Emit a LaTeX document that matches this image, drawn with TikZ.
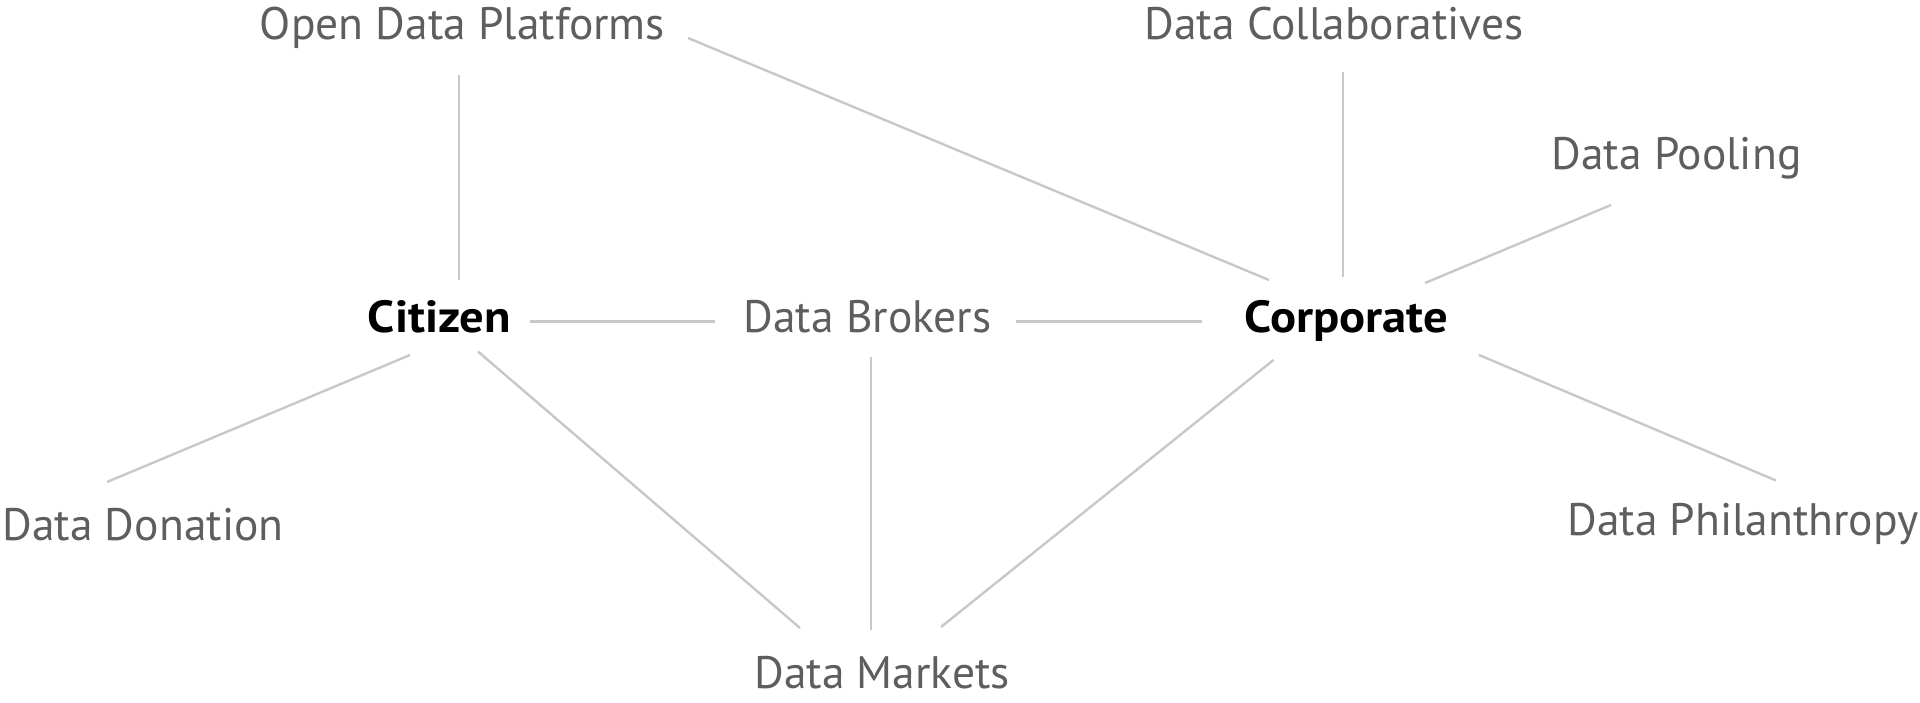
\documentclass[tikz,border=0pt]{standalone}
\usepackage{fontspec}
\setmainfont{PT Sans}
\newfontfamily\hubfont[FakeStretch=1.08]{PT Sans}
\definecolor{txtgray}{HTML}{5E5E5E}
\definecolor{linegray}{HTML}{C8C8C8}
\begin{document}
\begin{tikzpicture}[x=1pt,y=-1pt,
  lbl/.style={anchor=base,inner sep=0pt,text=txtgray,font=\fontsize{45.5}{52}\selectfont},
  hub/.style={anchor=base,inner sep=0pt,text=black,font=\fontsize{45}{52}\hubfont\bfseries},
  link/.style={draw=linegray,line width=2.4pt}]
\useasboundingbox (0,0) rectangle (1920,702);
% nodes
\node[lbl] (odp) at (462.5,39) {Open Data Platforms};
\node[lbl] (col) at (1334,39) {Data Collaboratives};
\node[lbl] (poo) at (1676.5,169) {Data Pooling};
\node[hub] (cit) at (439.5,332) {Citizen};
\node[lbl] (bro) at (867.5,332) {Data Brokers};
\node[hub] (cor) at (1346.5,332) {Corporate};
\node[lbl] (don) at (143,540) {Data Donation};
\node[lbl] (phi) at (1743,535) {Data Philanthropy};
\node[lbl] (mkt) at (882,688) {Data Markets};
% connectors
\draw[link] ([shift={(-3.5,36)}]odp.base) -- ([shift={(19.5,-52)}]cit.base);
\draw[link] ([shift={(225.5,-1)}]odp.base) -- ([shift={(-77.5,-52)}]cor.base);
\draw[link] ([shift={(9,33)}]col.base) -- ([shift={(-3.5,-55)}]cor.base);
\draw[link] ([shift={(-65.5,36)}]poo.base) -- ([shift={(78.5,-49)}]cor.base);
\draw[link] ([shift={(90.5,-10.5)}]cit.base) -- ([shift={(-152.5,-10.5)}]bro.base);
\draw[link] ([shift={(148.5,-10.5)}]bro.base) -- ([shift={(-144.5,-10.5)}]cor.base);
\draw[link] ([shift={(-29.5,23)}]cit.base) -- ([shift={(-36,-58)}]don.base);
\draw[link] ([shift={(38.5,19.5)}]cit.base) -- ([shift={(-82,-60)}]mkt.base);
\draw[link] ([shift={(3.5,25)}]bro.base) -- ([shift={(-11,-58)}]mkt.base);
\draw[link] ([shift={(-73,28)}]cor.base) -- ([shift={(59,-61)}]mkt.base);
\draw[link] ([shift={(132.5,23)}]cor.base) -- ([shift={(33,-54.5)}]phi.base);
\end{tikzpicture}
\end{document}
